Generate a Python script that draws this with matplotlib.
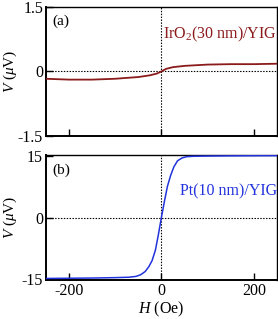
import numpy as np
import matplotlib
matplotlib.use("Agg")
import matplotlib.pyplot as plt

# field sweep H (Oe) and measured voltage V (uV)
h_iro2 = [-250, -200, -150, -100, -50, -25, -10, 0, 10, 25, 50, 100, 150, 200, 250]
v_iro2 = [-0.17, -0.19, -0.19, -0.17, -0.13, -0.09, -0.05, 0.0, 0.06, 0.10, 0.13, 0.16, 0.17, 0.17, 0.18]

h_pt = [-250, -150, -100, -70, -55, -45, -35, -27, -20, -13, -7, 0, 7, 13, 20, 27, 35, 45, 55, 70, 100, 150, 250]
v_pt = [-14.9, -14.8, -14.7, -14.6, -14.4, -14.0, -13.2, -12.0, -10.5, -8.0, -4.5, 0.0,
        4.2, 7.6, 10.3, 12.4, 13.9, 14.6, 14.9, 15.0, 15.05, 15.1, 15.15]

xticks_ = [-200, 0, 200]
yticks_a = [-1.5, 0, 1.5]
yticks_b = [-15, 0, 15]

red = '#8b1a1a'
blue = '#2233dd'

plt.rcParams['font.family'] = ['Liberation Serif', 'DejaVu Serif']
plt.rcParams['axes.unicode_minus'] = False
plt.rcParams['mathtext.fontset'] = 'custom'
plt.rcParams['mathtext.rm'] = 'Liberation Serif'
plt.rcParams['mathtext.it'] = 'Liberation Serif:italic'

fig = plt.figure(figsize=(2.78, 3.19), dpi=100)

axA = fig.add_axes([0.165, 0.574, 0.831, 0.404])
axB = fig.add_axes([0.165, 0.122, 0.831, 0.392])

def style(ax, yt, ylim):
    ax.set_xlim(-250, 250)
    ax.set_ylim(ylim)
    ax.set_xticks(xticks_)
    ax.set_yticks(yt)
    ax.set_yticklabels([('%g' % v) for v in yt])
    ax.tick_params(direction='in', length=5, width=1, labelsize=11.5, pad=2)
    ax.axhline(0, color='k', ls=(0, (1.3, 1.3)), lw=0.8, zorder=1)
    ax.axvline(0, color='k', ls=(0, (1.3, 1.3)), lw=0.8, zorder=1)
    for s in ax.spines.values():
        s.set_linewidth(1.0)
    ax.spines['left'].set_linewidth(1.4)
    ax.spines['bottom'].set_linewidth(1.4)
    ax.set_ylabel(r'$V$ ($\mu$V)', fontsize=11)
    ax.yaxis.set_label_coords(-0.118, 0.5)

axA.plot(h_iro2, v_iro2, color=red, lw=1.3, zorder=3)
style(axA, yticks_a, (-1.5, 1.5))
axA.tick_params(labelbottom=False)
axA.text(0.03, 0.94, '(a)', transform=axA.transAxes, fontsize=11, va='top', ha='left')
axA.text(1.0, 0.79, r'IrO$_2$(30 nm)/YIG', transform=axA.transAxes, fontsize=11.5,
         color=red, ha='right', va='center')

axB.plot(h_pt, v_pt, color=blue, lw=1.1, zorder=3)
style(axB, yticks_b, (-15.3, 15.3))
axB.text(0.03, 0.93, '(b)', transform=axB.transAxes, fontsize=11, va='top', ha='left')
axB.text(1.0, 0.71, 'Pt(10 nm)/YIG', transform=axB.transAxes, fontsize=11.5,
         color=blue, ha='right', va='center')
axB.set_xlabel(r'$H$ (Oe)', fontsize=11.5, labelpad=1)

fig.savefig('out.png', dpi=100)
